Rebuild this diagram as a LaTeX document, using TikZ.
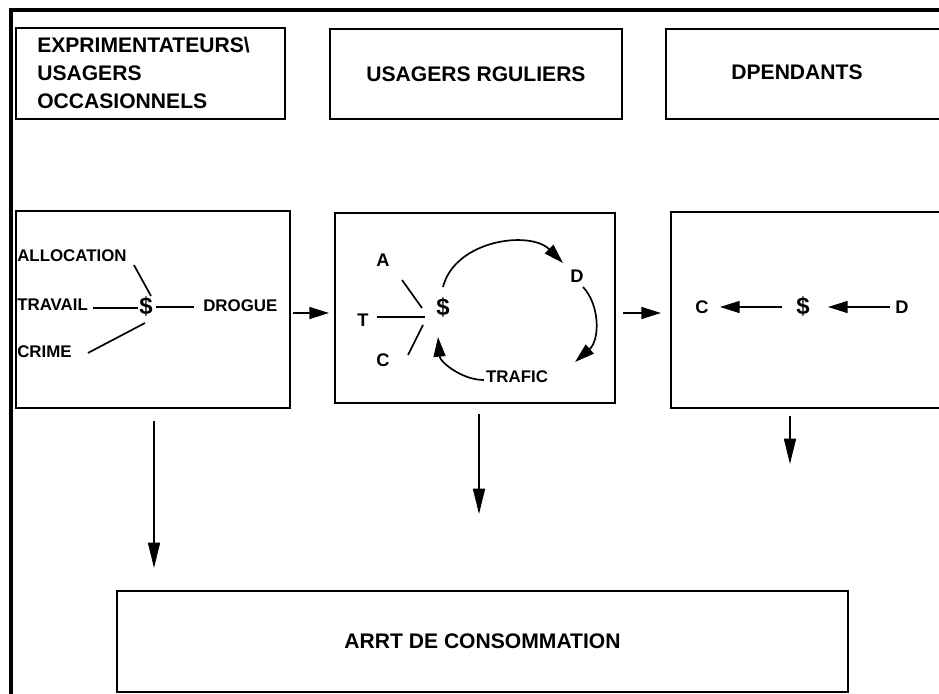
\documentclass[tikz,border=0pt]{standalone}
\usepackage{fontspec}
\setmainfont{Liberation Sans}
\usetikzlibrary{arrows.meta,calc}

\begin{document}
\begin{tikzpicture}[x=0.025cm,y=-0.025cm,
  box/.style={rectangle, draw, line width=1.4pt, inner sep=0pt,
              font=\fontsize{15}{19.6}\selectfont\bfseries, align=center},
  txt/.style={inner sep=0pt, font=\fontsize{15}{19.6}\selectfont\bfseries, align=left},
  lbl/.style={inner sep=0pt, font=\fontsize{12}{14}\selectfont\bfseries},
  ltr/.style={inner sep=0pt, font=\fontsize{13}{15}\selectfont\bfseries},
  dol/.style={inner sep=0pt, font=\fontsize{17}{19}\selectfont\bfseries},
  ln/.style={line width=1.2pt},
  arr/.style={-{Triangle[length=14pt,width=8.5pt]}, line width=1.2pt},
  darr/.style={-{Triangle[length=18pt,width=8.5pt]}, line width=1.2pt},
]
  \useasboundingbox (0,0) rectangle (939,694);
  % frame
  \draw[line width=2.2pt] (11,720) -- (11,10) -- (990,10);
  % top row
  \node[box, minimum width=6.725cm, minimum height=2.275cm](occ) at (150.5,73.5){};
  \node[txt, anchor=west] at (37,73){EXPRIMENTATEURS\textbackslash\\USAGERS\\OCCASIONNELS};
  \node[box, minimum width=7.3cm, minimum height=2.25cm](reg) at (476,74){USAGERS RGULIERS};
  \node[box, minimum width=7.85cm, minimum height=2.25cm](dep) at (823,74){};
  \node[txt] at (797,72){DPENDANTS};
  % middle row
  \node[box, minimum width=6.85cm, minimum height=4.925cm](mA) at (153,309.5){};
  \node[box, minimum width=7cm, minimum height=4.75cm](mB) at (475,308){};
  \node[box, minimum width=7.85cm, minimum height=4.9cm](mC) at (828,310){};
  \node[box, minimum width=18.275cm, minimum height=2.525cm](stop) at (482.5,641.5){ARRT DE CONSOMMATION};
  % box A
  \node[lbl, anchor=west](alloc) at (17,256){ALLOCATION};
  \node[lbl, anchor=west](trav) at (17,305){TRAVAIL};
  \node[lbl, anchor=west](crime) at (17,352){CRIME};
  \node[lbl, anchor=west](drog) at (203,306){DROGUE};
  \node[dol](dA) at (146,307){\$};
  \draw[ln] ([shift={(7,9)}]alloc.east) -- ([shift={(5,-11)}]dA.center);
  \draw[ln] ([shift={(5,3)}]trav.east) -- ([shift={(-8,1)}]dA.center);
  \draw[ln] ([shift={(16,1)}]crime.east) -- ([shift={(-1,16)}]dA.center);
  \draw[ln] ([shift={(10,0)}]dA.center) -- ([shift={(-9,1)}]drog.west);
  % box B
  \node[ltr](a) at (383,260){A};
  \node[ltr](t) at (363,320){T};
  \node[ltr](c) at (383,360){C};
  \node[ltr](d) at (577,276){D};
  \node[lbl](traf) at (517,377){TRAFIC};
  \node[dol](dB) at (443,308){\$};
  \draw[ln] ([shift={(19,20)}]a.center) -- ([shift={(-21,0)}]dB.center);
  \draw[ln] ([shift={(14,-3)}]t.center) -- ([shift={(-18,9)}]dB.center);
  \draw[ln] ([shift={(25,-5)}]c.center) -- ([shift={(-20,17)}]dB.center);
  \draw[arr] ([shift={(0,-21)}]dB.center) .. controls (455,240) and (530,230) .. ([shift={(-14,-13)}]d.center);
  \draw[arr] ([shift={(6,11)}]d.center) .. controls (600,305) and (600,340) .. (575,362);
  \draw[arr] ([shift={(-2,3)}]traf.west) .. controls (462,380) and (440,362) .. ([shift={(-5,29)}]dB.center);
  % box C
  \node[ltr](cC) at (702,307){C};
  \node[dol](dC) at (803,307){\$};
  \node[ltr](dD) at (902,307){D};
  \draw[arr] ([shift={(-21,0)}]dC.center) -- ([shift={(18,0)}]cC.center);
  \draw[arr] ([shift={(-12,0)}]dD.center) -- ([shift={(25,0)}]dC.center);
  % between boxes
  \draw[arr] ([shift={(2,3.5)}]mA.east) -- ([shift={(-5,5)}]mB.west);
  \draw[arr] ([shift={(7,5)}]mB.east) -- ([shift={(-9,3)}]mC.west);
  \draw[darr] ([shift={(1,12)}]mA.south) -- ([shift={(1,159)}]mA.south);
  \draw[darr] ([shift={(4,10)}]mB.south) -- ([shift={(4,110)}]mB.south);
  \draw[darr] ([shift={(120,7)}]mC.south west) -- ([shift={(120,55)}]mC.south west);
\end{tikzpicture}
\end{document}
